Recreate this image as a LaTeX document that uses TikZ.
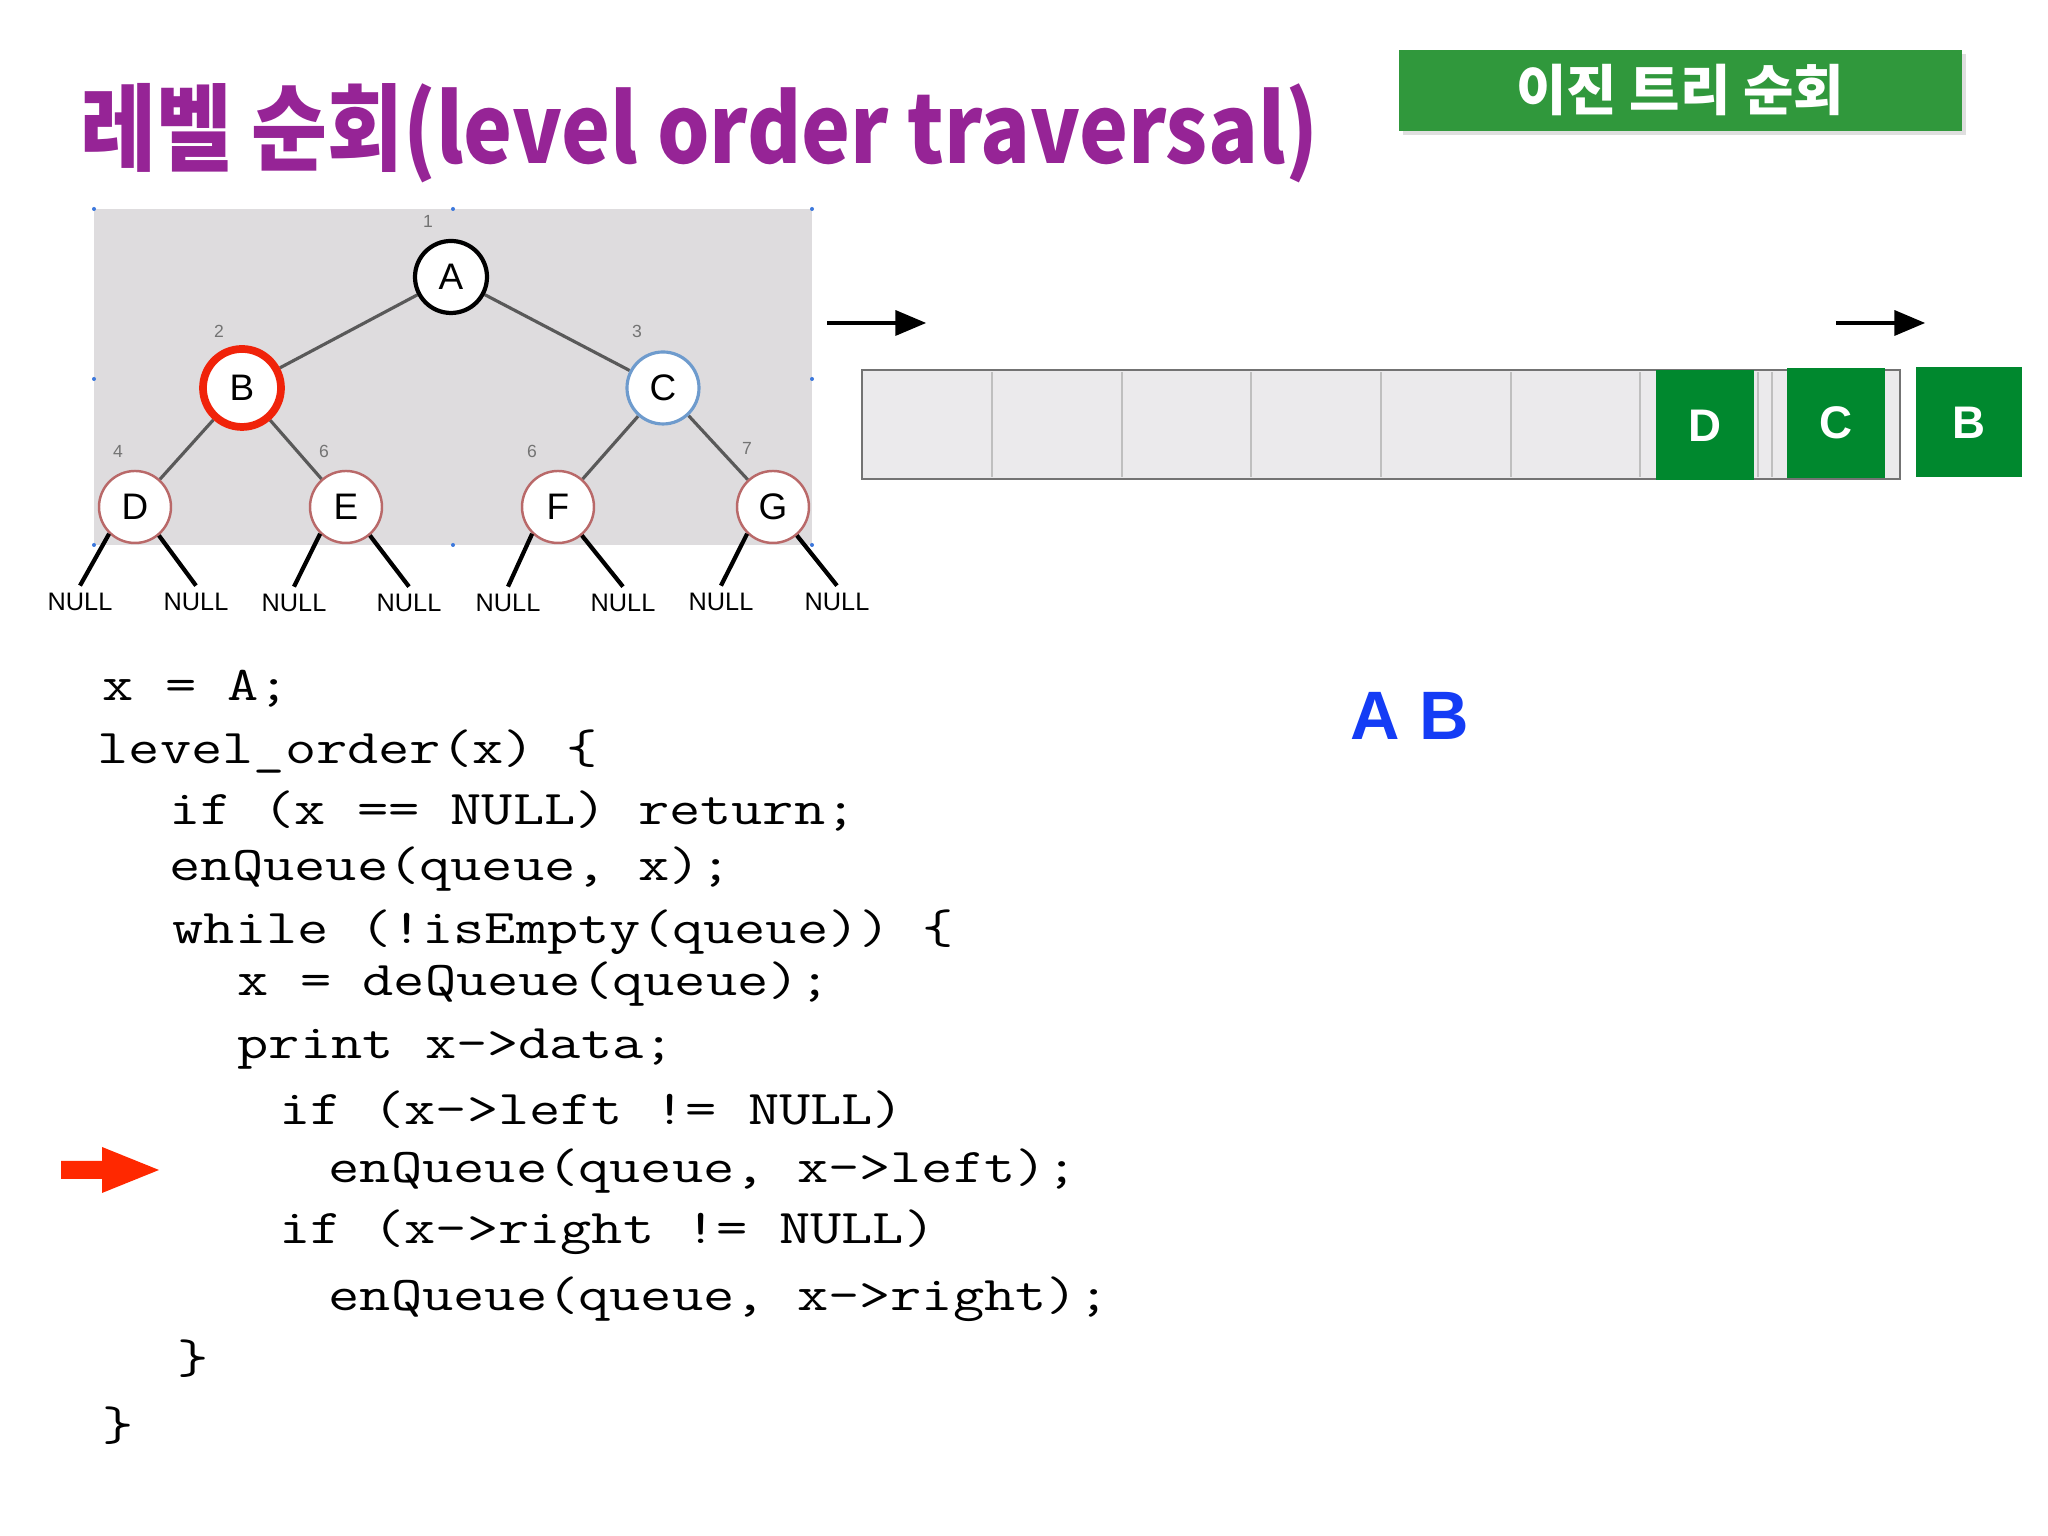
\documentclass[tikz,border=0pt]{standalone}
\usepackage{fontspec}
\usepackage{tikz}
\usetikzlibrary{arrows, backgrounds}
\usetikzlibrary{shadows}

\newfontfamily\krfont{Noto Sans CJK KR}
\newfontfamily\sansfont{Liberation Sans}
\newcommand{\codetxt}[1]{\scalebox{1.25}[1]{#1}}

\definecolor{titlepurple}{RGB}{150,36,150}
\definecolor{boxgreen}{RGB}{48,152,60}
\definecolor{qgreen}{RGB}{0,136,46}
\definecolor{qfill}{RGB}{235,234,236}
\definecolor{treegray}{RGB}{222,220,222}
\definecolor{nodered}{RGB}{185,105,105}
\definecolor{nodeblue}{RGB}{110,155,205}
\definecolor{markred}{RGB}{240,35,10}
\definecolor{abblue}{RGB}{20,60,245}
\definecolor{arrowred}{RGB}{255,40,0}
\definecolor{handleblue}{RGB}{60,120,220}

\tikzset{
  treenode/.style={circle, draw=nodered, line width=0.7pt, fill=white, minimum size=0.72cm, inner sep=0pt, font=\sansfont\fontsize{10.5}{10.5}\selectfont},
  treeedge/.style={line width=0.9pt, draw=black!65},
  nulledge/.style={line width=1.2pt},
  nulllabel/.style={inner sep=1pt, outer sep=0.4mm, font=\sansfont\fontsize{7.2}{7.2}\selectfont},
  idxlabel/.style={inner sep=0pt, text=black!55, font=\sansfont\fontsize{5}{5}\selectfont},
  qitem/.style={fill=qgreen, text=white, minimum width=0.98cm, minimum height=1.10cm, inner sep=0pt, font=\sansfont\bfseries\fontsize{13}{13}\selectfont},
  codeline/.style={anchor=base west, inner sep=0pt, font=\ttfamily\fontsize{13.8}{13.8}\selectfont}
}

\begin{document}
\begin{tikzpicture}[scale=1]

\useasboundingbox (0,0) rectangle (20.48,15.36);

% title and subject box
\node[anchor=base west, inner sep=0pt, text=titlepurple, font=\krfont\bfseries\fontsize{27}{27}\selectfont] (title) at (0.80,13.72) {\scalebox{0.87}[1]{레벨 순회(level order traversal)}};

\node[fill=boxgreen, text=white, minimum width=5.63cm, minimum height=0.81cm, inner sep=0pt, drop shadow={opacity=0.25, shadow xshift=0.04cm, shadow yshift=-0.04cm}, font=\krfont\bfseries\fontsize{15.6}{15.6}\selectfont] (subject) at (16.80,14.455) {이진 트리 순회};

%%%%%%%%%%%%%%% tree picture

\node[treenode, draw=black, line width=1.2pt] (A) at (4.51,12.59) {A};
\node[treenode, draw=markred, line width=2.2pt, minimum size=0.78cm] (B) at (2.42,11.48) {B};
\node[treenode, draw=nodeblue, line width=0.9pt] (C) at (6.63,11.48) {C};
\node[treenode] (D) at (1.35,10.29) {D};
\node[treenode] (E) at (3.46,10.29) {E};
\node[treenode] (F) at (5.58,10.29) {F};
\node[treenode] (G) at (7.73,10.29) {G};

\begin{pgfonlayer}{background}
\fill[white] (0,0) rectangle (20.48,15.36);
\fill[treegray] (0.94,9.91) rectangle (8.12,13.27);
\foreach \p in {(0.94,13.27),(4.53,13.27),(8.12,13.27),(0.94,11.57),(8.12,11.57),(0.94,9.91),(4.53,9.91),(8.12,9.91)}
  \fill[handleblue] \p circle (0.02);
\draw[treeedge] (A) -- (B);
\draw[treeedge] (A) -- (C);
\draw[treeedge] (B) -- (D);
\draw[treeedge] (B) -- (E);
\draw[treeedge] (C) -- (F);
\draw[treeedge] (C) -- (G);
\end{pgfonlayer}

\node[idxlabel] (i1) at (4.28,13.15) {1};
\node[idxlabel] (i2) at (2.19,12.05) {2};
\node[idxlabel] (i3) at (6.37,12.05) {3};
\node[idxlabel] (i4) at (1.18,10.85) {4};
\node[idxlabel] (i5) at (3.24,10.85) {6};
\node[idxlabel] (i6) at (5.32,10.85) {6};
\node[idxlabel] (i7) at (7.47,10.88) {7};

\node[nulllabel] (nD1) at (0.80,9.34) {NULL};
\node[nulllabel] (nD2) at (1.96,9.34) {NULL};
\node[nulllabel] (nE1) at (2.94,9.33) {NULL};
\node[nulllabel] (nE2) at (4.09,9.33) {NULL};
\node[nulllabel] (nF1) at (5.08,9.33) {NULL};
\node[nulllabel] (nF2) at (6.23,9.33) {NULL};
\node[nulllabel] (nG1) at (7.21,9.34) {NULL};
\node[nulllabel] (nG2) at (8.37,9.34) {NULL};

\draw[nulledge] (D.226) -- (nD1.north);
\draw[nulledge] (D.310) -- (nD2.north);
\draw[nulledge] (E.226) -- (nE1.north);
\draw[nulledge] (E.310) -- (nE2.north);
\draw[nulledge] (F.226) -- (nF1.north);
\draw[nulledge] (F.310) -- (nF2.north);
\draw[nulledge] (G.226) -- (nG1.north);
\draw[nulledge] (G.310) -- (nG2.north);

%%%%%%%%%%%%%%% queue

\node[draw=black!55, line width=0.8pt, fill=qfill, minimum width=10.38cm, minimum height=1.09cm, inner sep=0pt] (queue) at (13.81,11.115) {};
\foreach \x in {9.92,11.22,12.51,13.81,15.11,16.40,17.58,17.72}
  \draw[black!25, line width=0.5pt] (\x,10.59) -- (\x,11.64);

\node[qitem] (qD) at (17.05,11.105) {D};
\node[qitem] (qC) at (18.36,11.13) {C};
\node[qitem, minimum width=1.06cm] (qB) at (19.69,11.135) {B};

\coordinate (frontS) at (8.27,12.13);
\coordinate (frontE) at (9.26,12.13);
\coordinate (rearS) at (18.36,12.13);
\coordinate (rearE) at (19.25,12.13);
\draw [line width=1pt, ->, >= triangle 45] (frontS) -- (frontE);
\draw [line width=1pt, ->, >= triangle 45] (rearS) -- (rearE);

% printed so far
\node[text=abblue, font=\sansfont\bfseries\fontsize{19.5}{19.5}\selectfont] (out) at (14.10,8.20) {A B};

%%%%%%%%%%%%%%% code

\node[codeline] (l1) at (1.02,8.35) {\codetxt{x = A;}};
\node[codeline] (l2) at (0.97,7.72) {\codetxt{level\_order(x) \{}};
\node[codeline] (l3) at (1.69,7.11) {\codetxt{if (x == NULL) return;}};
\node[codeline] (l4) at (1.69,6.55) {\codetxt{enQueue(queue, x);}};
\node[codeline] (l5) at (1.72,5.92) {\codetxt{while (!isEmpty(queue)) \{}};
\node[codeline] (l6) at (2.37,5.40) {\codetxt{x = deQueue(queue);}};
\node[codeline] (l7) at (2.37,4.77) {\codetxt{print x->data;}};
\node[codeline] (l8) at (2.79,4.11) {\codetxt{if (x->left != NULL)}};
\node[codeline] (l9) at (3.28,3.53) {\codetxt{enQueue(queue, x->left);}};
\node[codeline] (l10) at (2.79,2.92) {\codetxt{if (x->right != NULL)}};
\node[codeline] (l11) at (3.28,2.25) {\codetxt{enQueue(queue, x->right);}};
\node[codeline] (l12) at (1.77,1.62) {\codetxt{\}}};
\node[codeline] (l13) at (1.02,0.95) {\codetxt{\}}};

% current line
\fill[arrowred] (0.61,3.57) -- (1.02,3.57) -- (1.02,3.43) -- (1.59,3.66) -- (1.02,3.89) -- (1.02,3.75) -- (0.61,3.75) -- cycle;

\end{tikzpicture}
\end{document}
